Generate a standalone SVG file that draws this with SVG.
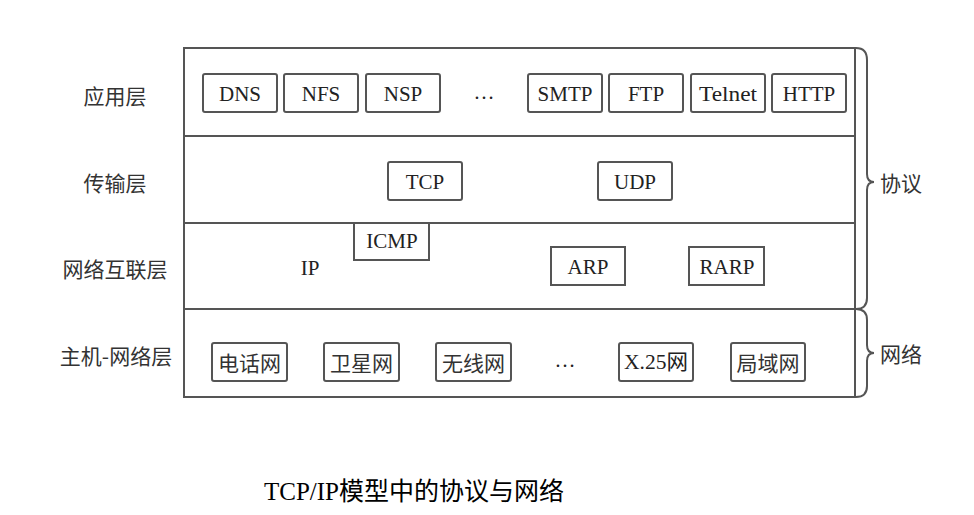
<svg xmlns="http://www.w3.org/2000/svg" width="974" height="515" viewBox="0 0 974 515">
<style>
.frame{fill:none;stroke:#555;stroke-width:2}
.box{fill:#fff;stroke:#555;stroke-width:2}
.t{font-family:"Liberation Serif","Noto Sans CJK SC",serif;font-size:21px;fill:#222;text-anchor:middle;dominant-baseline:central}
.c{font-family:"Noto Sans CJK SC",sans-serif;font-size:21px;fill:#333;text-anchor:middle;dominant-baseline:central}
.cap{font-family:"Liberation Serif","Noto Sans CJK SC",serif;font-size:25px;fill:#000;text-anchor:middle;dominant-baseline:central}
.brace{fill:none;stroke:#555;stroke-width:2}
</style>
<rect width="974" height="515" fill="#fff"/>
<g id="frame">
<rect class="frame" x="184" y="48" width="671" height="349"/>
<line class="frame" x1="184" y1="136" x2="855" y2="136"/>
<line class="frame" x1="184" y1="223" x2="855" y2="223"/>
<line class="frame" x1="184" y1="309" x2="855" y2="309"/>
</g>
<g id="layer-labels">
<text class="c" x="115" y="95">应用层</text>
<text class="c" x="115" y="182">传输层</text>
<text class="c" x="115" y="268">网络互联层</text>
<text class="c" x="116" y="355">主机-网络层</text>
</g>
<g id="app">
<g id="dns"><rect class="box" x="203" y="74" width="74" height="38" rx="2"/><text class="t" x="240" y="94">DNS</text></g>
<g id="nfs"><rect class="box" x="284" y="74" width="74" height="38" rx="2"/><text class="t" x="321" y="94">NFS</text></g>
<g id="nsp"><rect class="box" x="366" y="74" width="74" height="38" rx="2"/><text class="t" x="403" y="94">NSP</text></g>
<text class="t" x="484" y="92" font-size="16">…</text>
<g id="smtp"><rect class="box" x="528" y="74" width="74" height="38" rx="2"/><text class="t" x="565" y="94">SMTP</text></g>
<g id="ftp"><rect class="box" x="609" y="74" width="74" height="38" rx="2"/><text class="t" x="646" y="94">FTP</text></g>
<g id="telnet"><rect class="box" x="691" y="74" width="74" height="38" rx="2"/><text class="t" x="728" y="94" textLength="58" lengthAdjust="spacingAndGlyphs">Telnet</text></g>
<g id="http"><rect class="box" x="772" y="74" width="74" height="38" rx="2"/><text class="t" x="809" y="94">HTTP</text></g>
</g>
<g id="transport">
<g id="tcp"><rect class="box" x="388" y="162" width="74" height="38" rx="2"/><text class="t" x="425" y="182">TCP</text></g>
<g id="udp"><rect class="box" x="598" y="162" width="74" height="38" rx="2"/><text class="t" x="635" y="182">UDP</text></g>
</g>
<g id="internet">
<text class="t" x="310" y="268">IP</text>
<g id="icmp"><rect class="box" x="354" y="223" width="75" height="37"/><text class="t" x="392" y="241">ICMP</text></g>
<g id="arp"><rect class="box" x="551" y="247" width="74" height="38"/><text class="t" x="588" y="267">ARP</text></g>
<g id="rarp"><rect class="box" x="689" y="247" width="75" height="38"/><text class="t" x="727" y="267">RARP</text></g>
</g>
<g id="host">
<g id="phone"><rect class="box" x="212" y="343" width="75" height="38" rx="2"/><text class="c" x="249.5" y="362">电话网</text></g>
<g id="sat"><rect class="box" x="324" y="343" width="75" height="38" rx="2"/><text class="c" x="361.5" y="362">卫星网</text></g>
<g id="wireless"><rect class="box" x="436" y="343" width="75" height="38" rx="2"/><text class="c" x="473.5" y="362">无线网</text></g>
<text class="t" x="565" y="360" font-size="16">…</text>
<g id="x25"><rect class="box" x="619" y="343" width="74" height="38" rx="2"/><text class="t" x="656" y="362" textLength="64" lengthAdjust="spacingAndGlyphs">X.25网</text></g>
<g id="lan"><rect class="box" x="731" y="343" width="74" height="38" rx="2"/><text class="c" x="768" y="362">局域网</text></g>
</g>
<g id="connectors">
<path class="brace" d="M856,48 Q867,48 867,60 L867,174 Q867,182 874,182 Q867,182 867,190 L867,298 Q867,309 856,309"/>
<path class="brace" d="M856,309 Q867,309 867,320 L867,345 Q867,353 874,353 Q867,353 867,361 L867,386 Q867,397 856,397"/>
</g>
<g id="side-labels">
<text class="c" x="901" y="182">协议</text>
<text class="c" x="901" y="353">网络</text>
</g>
<text class="cap" x="414" y="491">TCP/IP模型中的协议与网络</text>
</svg>
